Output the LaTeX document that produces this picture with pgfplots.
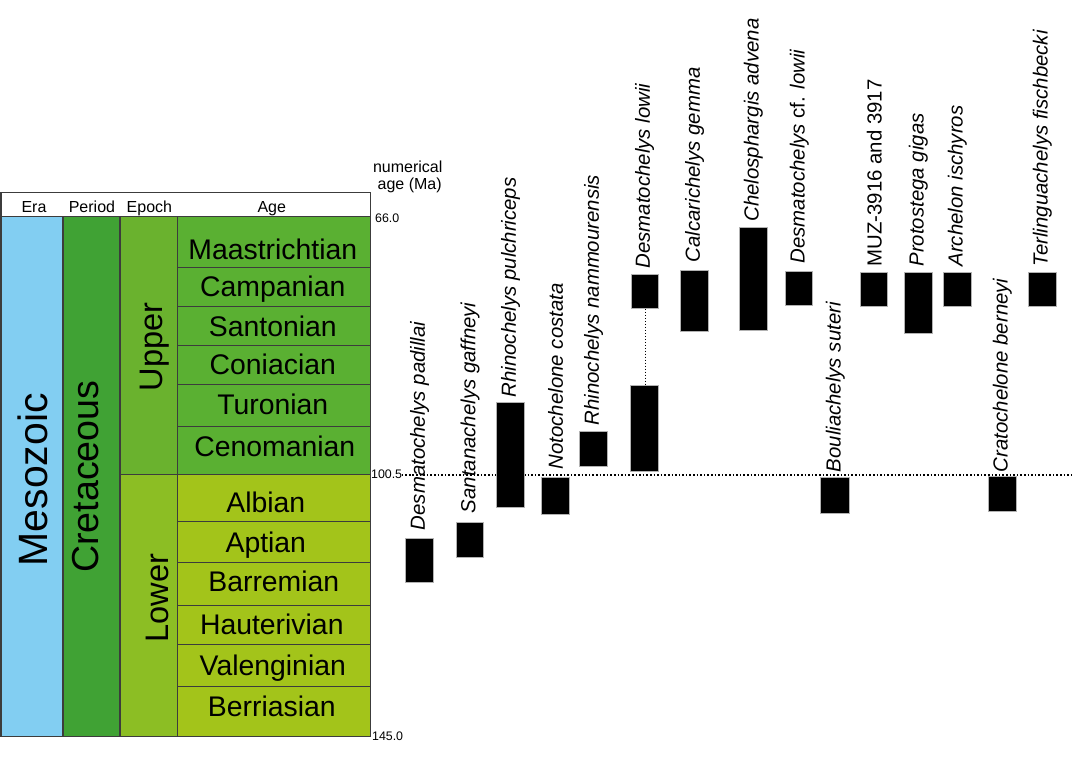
\documentclass[border=0pt]{standalone}
\usepackage{fontspec}
\setmainfont{Liberation Sans}
\usepackage{pgfplots}
\pgfplotsset{compat=1.18}
\definecolor{eraC}{RGB}{130,206,242}
\definecolor{perC}{RGB}{64,162,52}
\definecolor{upEp}{RGB}{106,178,46}
\definecolor{upAg}{RGB}{90,176,50}
\definecolor{loEp}{RGB}{140,190,36}
\definecolor{loAg}{RGB}{163,196,26}
\definecolor{lineC}{RGB}{60,60,60}
\newcommand{\fs}[1]{\fontsize{#1}{#1}\selectfont}
\begin{document}
\begin{tikzpicture}
\begin{axis}[x=0.5pt, y=0.5pt, xmin=0, xmax=1075, ymin=0, ymax=761, y dir=reverse,
  hide axis, clip=false, no marks]
\addplot[draw=none] coordinates {(0,0)(1075,761)};
% ---- time scale ----
\addplot[fill=white, draw=lineC, line width=0.6pt] coordinates {(1,193)(371,193)(371,217)(1,217)} -- cycle;
\addplot[fill=eraC, draw=lineC, line width=0.6pt] coordinates {(1,217)(63,217)(63,737)(1,737)} -- cycle;
\addplot[fill=perC, draw=lineC, line width=0.6pt] coordinates {(63,217)(120,217)(120,737)(63,737)} -- cycle;
\addplot[fill=upEp, draw=lineC, line width=0.6pt] coordinates {(120,217)(178,217)(178,475)(120,475)} -- cycle;
\addplot[fill=loEp, draw=lineC, line width=0.6pt] coordinates {(120,475)(178,475)(178,737)(120,737)} -- cycle;
% upper ages
\addplot[fill=upAg, draw=lineC, line width=0.6pt] coordinates {(178,217)(371,217)(371,268)(178,268)} -- cycle;
\addplot[fill=upAg, draw=lineC, line width=0.6pt] coordinates {(178,268)(371,268)(371,307)(178,307)} -- cycle;
\addplot[fill=upAg, draw=lineC, line width=0.6pt] coordinates {(178,307)(371,307)(371,346)(178,346)} -- cycle;
\addplot[fill=upAg, draw=lineC, line width=0.6pt] coordinates {(178,346)(371,346)(371,385)(178,385)} -- cycle;
\addplot[fill=upAg, draw=lineC, line width=0.6pt] coordinates {(178,385)(371,385)(371,427)(178,427)} -- cycle;
\addplot[fill=upAg, draw=lineC, line width=0.6pt] coordinates {(178,427)(371,427)(371,475)(178,475)} -- cycle;
% lower ages
\addplot[fill=loAg, draw=lineC, line width=0.6pt] coordinates {(178,475)(371,475)(371,522)(178,522)} -- cycle;
\addplot[fill=loAg, draw=lineC, line width=0.6pt] coordinates {(178,522)(371,522)(371,563)(178,563)} -- cycle;
\addplot[fill=loAg, draw=lineC, line width=0.6pt] coordinates {(178,563)(371,563)(371,606)(178,606)} -- cycle;
\addplot[fill=loAg, draw=lineC, line width=0.6pt] coordinates {(178,606)(371,606)(371,645)(178,645)} -- cycle;
\addplot[fill=loAg, draw=lineC, line width=0.6pt] coordinates {(178,645)(371,645)(371,687)(178,687)} -- cycle;
\addplot[fill=loAg, draw=lineC, line width=0.6pt] coordinates {(178,687)(371,687)(371,737)(178,737)} -- cycle;
% header texts
\node[anchor=base, font=\fs{8}] at (axis cs:34,213) {Era};
\node[anchor=base, font=\fs{8}] at (axis cs:92,213) {Period};
\node[anchor=base, font=\fs{8}] at (axis cs:149.5,213) {Epoch};
\node[anchor=base, font=\fs{8}] at (axis cs:272,213) {Age};
\node[anchor=base, font=\fs{8}] at (axis cs:408,173) {numerical};
\node[anchor=base, font=\fs{8}] at (axis cs:410,190) {age (Ma)};
\node[anchor=base west, inner sep=0pt, font=\fs{6.2}] at (axis cs:375,223) {66.0};
\node[anchor=base west, inner sep=0pt, font=\fs{6.2}] at (axis cs:371,479) {100.5};
\node[anchor=base west, inner sep=0pt, font=\fs{6.2}] at (axis cs:372,741) {145.0};
% big rotated labels
\node[rotate=90, inner sep=0pt, font=\fs{20.5}] at (axis cs:33,480) {Mesozoic};
\node[rotate=90, inner sep=0pt, font=\fs{18.8}] at (axis cs:86,477) {Cretaceous};
\node[rotate=90, inner sep=0pt, font=\fs{16.3}] at (axis cs:155,347) {Upper};
\node[rotate=90, inner sep=0pt, font=\fs{16.3}] at (axis cs:157.5,598.5) {Lower};
% age labels
\node[anchor=base, font=\fs{14.2}] at (axis cs:273,260) {Maastrichtian};
\node[anchor=base, font=\fs{14.2}] at (axis cs:273,297) {Campanian};
\node[anchor=base, font=\fs{14.2}] at (axis cs:273,337) {Santonian};
\node[anchor=base, font=\fs{14.2}] at (axis cs:273,375) {Coniacian};
\node[anchor=base, font=\fs{14.2}] at (axis cs:273,415) {Turonian};
\node[anchor=base, font=\fs{14.2}] at (axis cs:275,457) {Cenomanian};
\node[anchor=base, font=\fs{14.2}] at (axis cs:266,513) {Albian};
\node[anchor=base, font=\fs{14.2}] at (axis cs:266,553) {Aptian};
\node[anchor=base, font=\fs{14.2}] at (axis cs:274,592) {Barremian};
\node[anchor=base, font=\fs{14.2}] at (axis cs:272,635) {Hauterivian};
\node[anchor=base, font=\fs{14.2}] at (axis cs:273,676) {Valenginian};
\node[anchor=base, font=\fs{14.2}] at (axis cs:272,717) {Berriasian};
% ---- 100.5 line ----
\addplot[black, densely dotted, line width=0.8pt] coordinates {(402,475.5)(1075,475.5)};
\addplot[black, densely dotted, line width=0.5pt] coordinates {(645.5,309)(645.5,386)};
% ---- taxa bars ----
\pgfplotsset{bar/.style={fill=black, draw=gray!60, line width=0.4pt}}
\addplot[bar] coordinates {(406,539)(434,539)(434,583)(406,583)} -- cycle;
\addplot[bar] coordinates {(457,523)(484,523)(484,558)(457,558)} -- cycle;
\addplot[bar] coordinates {(497,403)(525,403)(525,508)(497,508)} -- cycle;
\addplot[bar] coordinates {(542,478)(570,478)(570,515)(542,515)} -- cycle;
\addplot[bar] coordinates {(580,432)(608,432)(608,467)(580,467)} -- cycle;
\addplot[bar] coordinates {(632,275)(659,275)(659,309)(632,309)} -- cycle;
\addplot[bar] coordinates {(631,386)(659,386)(659,472)(631,472)} -- cycle;
\addplot[bar] coordinates {(681,271)(709,271)(709,332)(681,332)} -- cycle;
\addplot[bar] coordinates {(740,228)(768,228)(768,331)(740,331)} -- cycle;
\addplot[bar] coordinates {(786,272)(813,272)(813,306)(786,306)} -- cycle;
\addplot[bar] coordinates {(821,478)(850,478)(850,514)(821,514)} -- cycle;
\addplot[bar] coordinates {(861,273)(888,273)(888,307)(861,307)} -- cycle;
\addplot[bar] coordinates {(905,273)(933,273)(933,334)(905,334)} -- cycle;
\addplot[bar] coordinates {(944,273)(972,273)(972,307)(944,307)} -- cycle;
\addplot[bar] coordinates {(989,477)(1017,477)(1017,512)(989,512)} -- cycle;
\addplot[bar] coordinates {(1029,273)(1057,273)(1057,307)(1029,307)} -- cycle;
% ---- taxa labels ----
\tikzset{tx/.style={rotate=90, anchor=west, inner sep=0pt, font=\fs{10.2}\itshape}}
\node[tx] at (axis cs:420,531) {Desmatochelys padillai};
\node[tx] at (axis cs:470.5,514) {Santanachelys gaffneyi};
\node[tx] at (axis cs:511,398) {Rhinochelys pulchriceps};
\node[tx] at (axis cs:556,470) {Notochelone costata};
\node[tx] at (axis cs:594,426) {Rhinochelys nammourensis};
\node[tx] at (axis cs:645,269) {Desmatochelys lowii};
\node[tx] at (axis cs:695,263) {Calcarichelys gemma};
\node[tx] at (axis cs:754,222) {Chelosphargis advena};
\node[tx] at (axis cs:800,264) {Desmatochelys {\upshape cf.} lowii};
\node[tx] at (axis cs:836,473) {Bouliachelys suteri};
\node[tx, font=\fs{10.2}] at (axis cs:875,267) {MUZ-3916 and 3917};
\node[tx] at (axis cs:919,267) {Protostega gigas};
\node[tx] at (axis cs:958,267) {Archelon ischyros};
\node[tx] at (axis cs:1003,473) {Cratochelone berneyi};
\node[tx] at (axis cs:1043,267) {Terlinguachelys fischbecki};
\end{axis}
\end{tikzpicture}
\end{document}
